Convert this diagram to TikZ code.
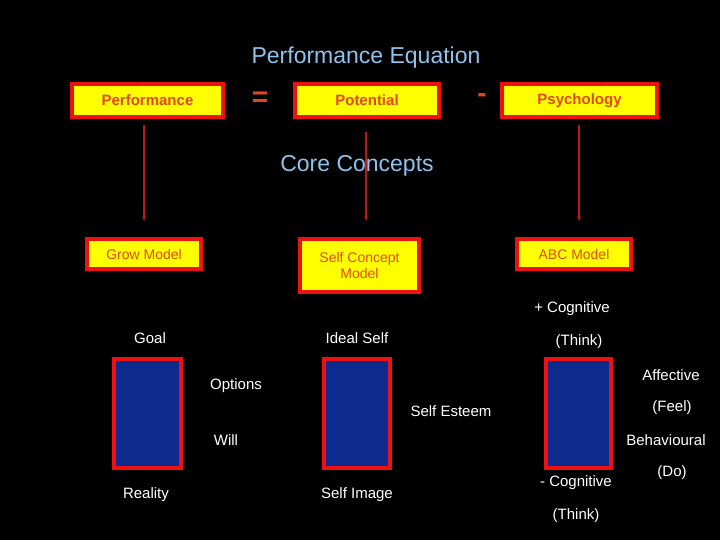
\documentclass[tikz,border=0pt]{standalone}
\usepackage{fontspec}
\setmainfont{Liberation Sans}
\usetikzlibrary{arrows.meta}
\definecolor{ttl}{HTML}{8EC3EE}
\definecolor{ored}{HTML}{E0481A}
\definecolor{ybox}{HTML}{FFFF00}
\definecolor{bred}{HTML}{EE1111}
\definecolor{arr}{HTML}{C01818}
\definecolor{bfill}{HTML}{0D2A8E}
\begin{document}
\begin{tikzpicture}[x=1pt,y=-1pt,
  ybx/.style={draw=bred,line width=4pt,fill=ybox,text=ored,inner sep=0pt,align=center,font=\fontsize{14}{16}\selectfont},
  bbx/.style={draw=bred,line width=3.5pt,fill=bfill},
  lbl/.style={text=white,font=\fontsize{15}{17}\selectfont},
  ttlst/.style={text=ttl,font=\fontsize{23}{26}\selectfont},
  ar/.style={draw=arr,line width=1.2pt,-{Stealth[length=5pt]}}]
\fill[black] (0,0) rectangle (720,540);
\useasboundingbox (0,0) rectangle (720,540);
\node[ttlst] (t1) at (366,58) {Performance Equation};
\node[ybx,minimum width=151pt,minimum height=33pt,font=\fontsize{15}{17}\selectfont\bfseries] (perf) at (147.5,100.5) {Performance};
\node[text=ored,font=\fontsize{28}{30}\selectfont\bfseries] (eq) at (260,99) {=};
\node[ybx,minimum width=144pt,minimum height=33pt,font=\fontsize{15}{17}\selectfont\bfseries] (pot) at (367,100.5) {Potential};
\node[text=ored,font=\fontsize{28}{30}\selectfont\bfseries] (mi) at (482,98) {-};
\node[ybx,minimum width=155pt,minimum height=33pt,font=\fontsize{15}{17}\selectfont\bfseries] (psy) at (579.5,100.5) {Psychology};
\node[ttlst] (cc) at (357,166) {Core Concepts};
\node[ybx,minimum width=114pt,minimum height=30pt] (grow) at (144,254) {Grow Model};
\node[ybx,minimum width=119pt,minimum height=53pt] (scm) at (359.5,265.5) {Self Concept\\Model};
\node[ybx,minimum width=114pt,minimum height=30pt] (abc) at (574,254) {ABC Model};
\coordinate (a1) at (144,125); \coordinate (b1) at (144,221);
\coordinate (a2) at (366,132); \coordinate (b2) at (366,221);
\coordinate (a3) at (579,125); \coordinate (b3) at (579,221);
\draw[ar] (a1) -- (b1);
\draw[ar] (a2) -- (b2);
\draw[ar] (a3) -- (b3);
\node[bbx,minimum width=67pt,minimum height=109pt] (r1) at (147.5,413.5) {};
\node[bbx,minimum width=66pt,minimum height=109pt] (r2) at (357,413.5) {};
\node[bbx,minimum width=65pt,minimum height=109pt] (r3) at (578.5,413.5) {};
\node[lbl] (l1) at (572,309) {+ Cognitive};
\node[lbl] (l2) at (150,338) {Goal};
\node[lbl] (l3) at (357,338) {Ideal Self};
\node[lbl] (l4) at (579,342) {(Think)};
\node[lbl] (l5) at (671,375) {Affective};
\node[lbl] (l6) at (236,386) {Options};
\node[lbl] (l7) at (451,411) {Self Esteem};
\node[lbl] (l8) at (672,408) {(Feel)};
\node[lbl] (l9) at (226,440) {Will};
\node[lbl] (l10) at (666,440) {Behavioural};
\node[lbl] (l11) at (146,495) {Reality};
\node[lbl] (l12) at (357,495) {Self Image};
\node[lbl] (l13) at (576,483) {- Cognitive};
\node[lbl] (l14) at (672,473) {(Do)};
\node[lbl] (l15) at (576,516) {(Think)};
\end{tikzpicture}
\end{document}
